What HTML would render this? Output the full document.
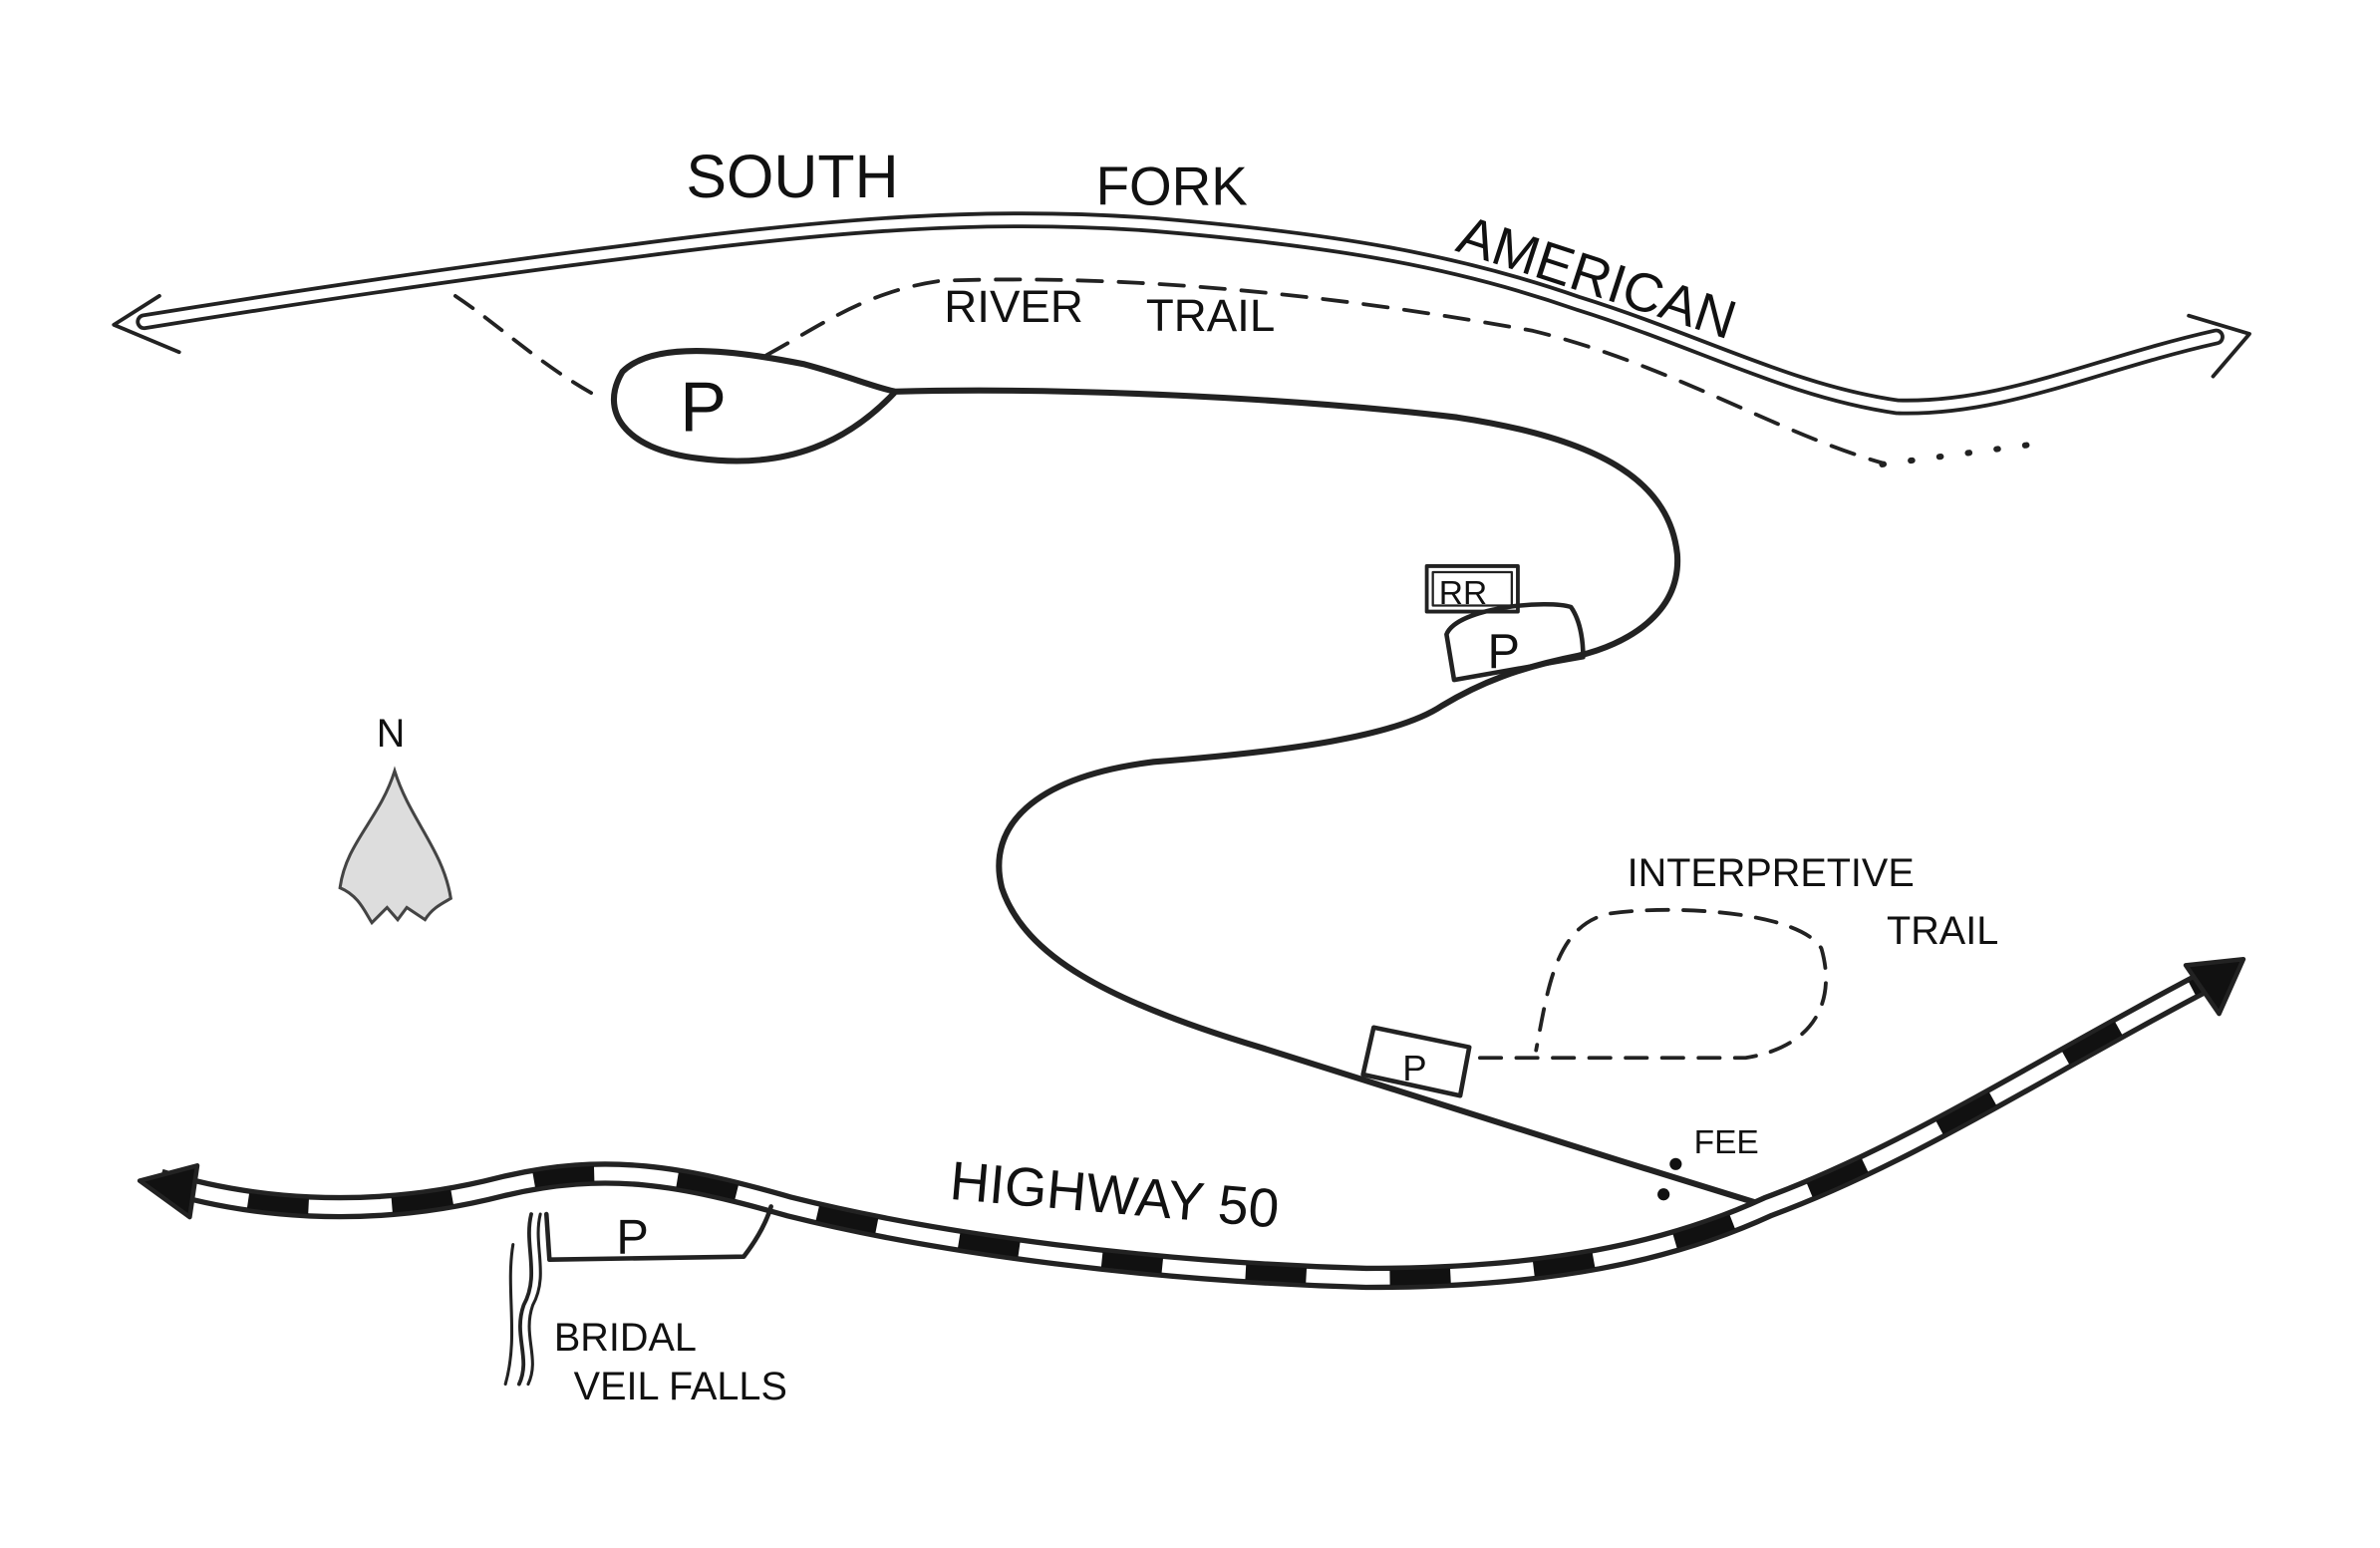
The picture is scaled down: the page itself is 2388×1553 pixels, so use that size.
<!DOCTYPE html>
<html><head><meta charset="utf-8"><style>
html,body{margin:0;padding:0;background:#fff;}
svg{display:block;}
text{font-family:"Liberation Sans",sans-serif;fill:#111;}
</style></head><body>
<svg width="2388" height="1553" viewBox="0 0 1568 1020" preserveAspectRatio="none" xmlns="http://www.w3.org/2000/svg">
<rect width="1568" height="1020" fill="#fff"/>
<g fill="none" stroke="#222" stroke-linecap="round" stroke-linejoin="round">
<!-- river -->
<path d="M95,212 C200,195 300,180 420,165 C550,148 650,140 760,148 C880,158 960,172 1040,200 C1120,225 1180,258 1250,268 C1320,270 1380,240 1460,222" stroke-width="11"/>
<path d="M95,212 C200,195 300,180 420,165 C550,148 650,140 760,148 C880,158 960,172 1040,200 C1120,225 1180,258 1250,268 C1320,270 1380,240 1460,222" stroke="#fff" stroke-width="6"/>
<path d="M105,195 L75,214 L118,232" stroke-width="2.5"/>
<path d="M1442,208 L1482,220 L1458,248" stroke-width="2.5"/>
<!-- river trail -->
<path d="M300,195 C330,215 355,240 395,262" stroke-width="2.5" stroke-dasharray="14 10"/>
<path d="M505,234 C540,215 570,192 620,185 C760,180 900,198 1010,218 C1100,240 1170,285 1240,305" stroke-width="2.5" stroke-dasharray="16 11"/>
<path d="M1240,306 L1345,292" stroke-width="4" stroke-dasharray="1 18"/>
<!-- parking loop + road -->
<path d="M590,258 C560,290 520,310 460,302 C410,296 395,270 410,245 C430,225 480,230 530,240 C560,248 575,255 590,258 C700,255 850,262 960,275 C1060,290 1100,320 1105,365 C1108,405 1070,425 1040,432 C1000,440 975,450 950,465 C920,485 850,495 760,502 C680,512 650,545 660,585 C675,630 730,660 830,690 C920,718 1050,760 1165,795" stroke-width="4"/>
<!-- RR -->
<rect x="940" y="373" width="60" height="30" stroke-width="2.5"/>
<rect x="944" y="377" width="52" height="22" stroke-width="1.5"/>
<!-- P box -->
<path d="M958,448 L953,418 C960,400 1020,395 1035,400 C1042,410 1043,425 1043,433 Z" stroke-width="3"/>
<!-- interpretive P -->
<path d="M905,677 L968,690 L962,722 L898,708 Z" stroke-width="3"/>
<!-- interpretive trail -->
<path d="M975,697 L1150,697 C1195,690 1210,660 1200,625 C1185,600 1100,596 1060,602 C1025,610 1020,650 1012,692" stroke-width="2.5" stroke-dasharray="14 10"/>
<!-- highway -->
<path id="hw" d="M105,778 C160,795 240,805 330,782 C400,765 450,775 520,795 C620,820 760,838 900,842 C1020,842 1100,825 1165,795 C1260,760 1350,700 1462,642" stroke-width="16" stroke-linecap="butt"/>
<path d="M105,778 C160,795 240,805 330,782 C400,765 450,775 520,795 C620,820 760,838 900,842 C1020,842 1100,825 1165,795 C1260,760 1350,700 1462,642" stroke="#fff" stroke-width="9" stroke-linecap="butt"/>
<path d="M105,778 C160,795 240,805 330,782 C400,765 450,775 520,795 C620,820 760,838 900,842 C1020,842 1100,825 1165,795 C1260,760 1350,700 1462,642" stroke="#111" stroke-width="10" stroke-dasharray="40 55" stroke-dashoffset="-60" stroke-linecap="butt"/>
<path d="M130,768 L92,778 L125,802 Z" fill="#111" stroke-width="3"/>
<path d="M1440,636 L1478,632 L1462,668 Z" fill="#111" stroke-width="3"/>
<!-- lower P -->
<path d="M360,800 L362,830 L490,828 C500,815 505,805 508,795" stroke-width="3"/>
<!-- falls -->
<path d="M350,800 C345,820 356,840 345,860 C338,880 350,895 342,912" stroke-width="2.5"/>
<path d="M356,800 C351,820 362,840 351,860 C344,880 356,895 348,912" stroke-width="2"/>
<path d="M338,820 C333,850 342,880 333,912" stroke-width="2"/>
</g>
<!-- fee dots -->
<circle cx="1104" cy="767" r="4" fill="#111"/>
<circle cx="1096" cy="787" r="4" fill="#111"/>
<!-- north arrowhead -->
<path d="M260,508 C250,540 228,555 224,585 C236,590 240,600 245,608 L255,598 L262,606 L268,598 L280,606 C285,598 292,595 297,592 C292,560 270,540 260,508 Z" fill="#ddd" stroke="#444" stroke-width="2"/>
<g font-size="36">
<text x="452" y="130" font-size="40">SOUTH</text>
<text x="722" y="135" font-size="36">FORK</text>
<text x="958" y="165" font-size="36" transform="rotate(18 958 165)">AMERICAN</text>
<text x="622" y="212" font-size="30">RIVER</text>
<text x="755" y="218" font-size="30">TRAIL</text>
<text x="448" y="284" font-size="46">P</text>
<text x="948" y="398" font-size="22">RR</text>
<text x="980" y="440" font-size="32">P</text>
<text x="924" y="712" font-size="24">P</text>
<text x="406" y="826" font-size="32">P</text>
<text x="248" y="492" font-size="26">N</text>
<text x="1072" y="584" font-size="26">INTERPRETIVE</text>
<text x="1243" y="622" font-size="26">TRAIL</text>
<text x="1116" y="760" font-size="22">FEE</text>
<text x="625" y="790" font-size="36" transform="rotate(5 625 790)">HIGHWAY 50</text>
<text x="365" y="890" font-size="26">BRIDAL</text>
<text x="378" y="922" font-size="26">VEIL FALLS</text>
</g>
</svg>
</body></html>
